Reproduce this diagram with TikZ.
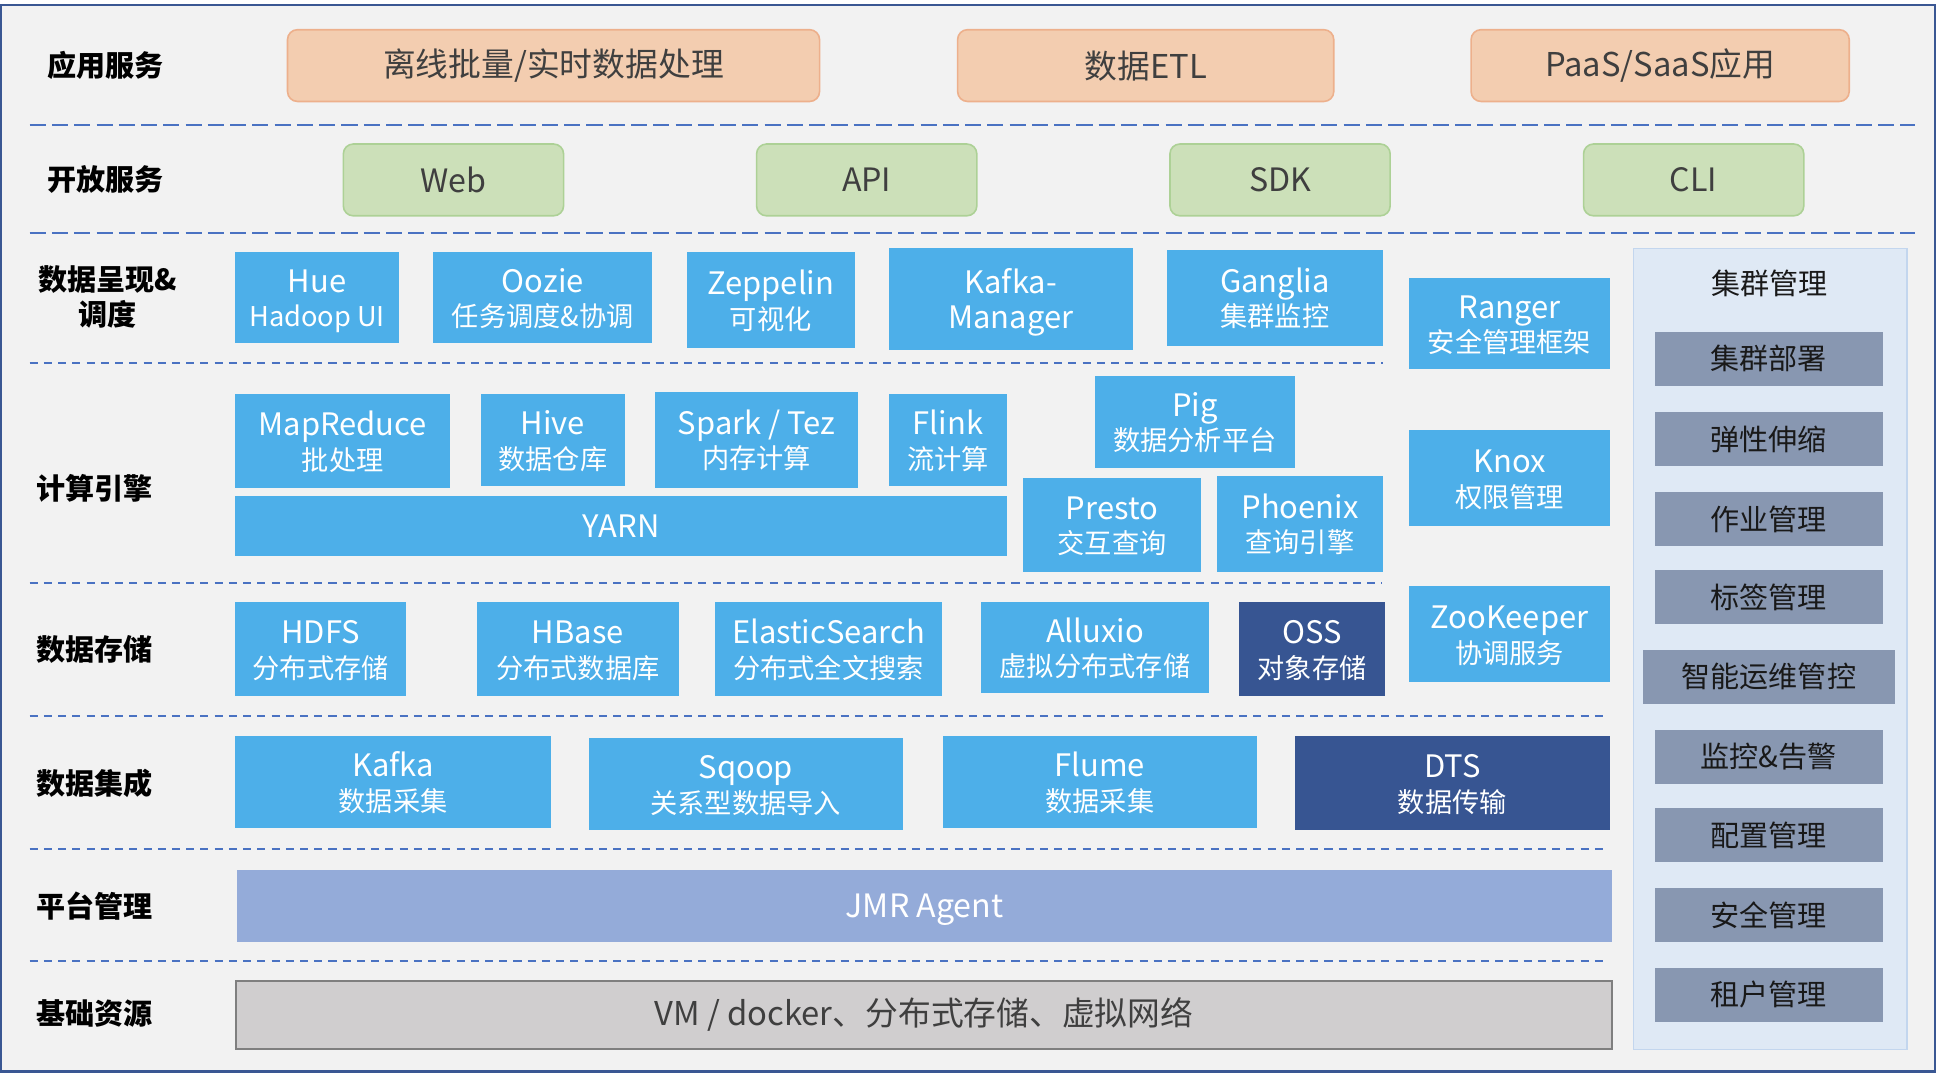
\documentclass[tikz,border=0pt]{standalone}
\usepackage{fontspec}
\setmainfont{Noto Sans CJK SC}
\usepackage{tikz}
\definecolor{bggray}{HTML}{F2F2F2}
\definecolor{framecol}{HTML}{3A5793}
\definecolor{sepblue}{HTML}{4A72C2}
\definecolor{appfill}{HTML}{F3CDB0}
\definecolor{appline}{HTML}{EDB08C}
\definecolor{openfill}{HTML}{CCE0B9}
\definecolor{openline}{HTML}{ADD196}
\definecolor{compblue}{HTML}{4DAFE9}
\definecolor{darkblue}{HTML}{375592}
\definecolor{agentblue}{HTML}{94ABD9}
\definecolor{basegray}{HTML}{D0CECF}
\definecolor{baseedge}{HTML}{7F7F7F}
\definecolor{panelfill}{HTML}{DFE9F5}
\definecolor{panelline}{HTML}{C3D6EE}
\definecolor{mgmtgray}{HTML}{8897B1}
\definecolor{darktext}{HTML}{3F3F3F}
% two-line box text: name, then a smaller caption
\newcommand{\twol}[2]{\rule{0pt}{25pt}#1\\{\fontsize{22}{28}\selectfont #2\rule[-6pt]{0pt}{6pt}}}
\tikzset{
  layer/.style={anchor=west, inner sep=0pt, font=\fontsize{23.5}{28}\selectfont\bfseries},
  appbox/.style={draw=appline, fill=appfill, line width=1.3pt, rounded corners=8pt,
    minimum height=58pt, inner sep=0pt, text=darktext, font=\fontsize{26.5}{30}\selectfont},
  openbox/.style={draw=openline, fill=openfill, line width=1.3pt, rounded corners=8pt,
    minimum width=178pt, minimum height=58pt, inner sep=0pt, text=darktext, font=\fontsize{26}{30}\selectfont},
  compbox/.style={fill=compblue, text=white, align=center, inner sep=0pt, font=\fontsize{25}{28}\selectfont},
  darkbox/.style={compbox, fill=darkblue},
  mgmtbox/.style={fill=mgmtgray, minimum width=184pt, minimum height=43.5pt, inner sep=0pt,
    text=black!90, font=\fontsize{23.5}{28}\selectfont},
  sepwide/.style={draw=sepblue, line width=1.6pt, dash pattern=on 13pt off 5pt},
  sepnarrow/.style={draw=sepblue, line width=1.6pt, dash pattern=on 6.5pt off 5pt},
}
\begin{document}
\begin{tikzpicture}[x=1pt,y=-1pt]
\useasboundingbox (0,0) rectangle (1568,868);
\draw[framecol, line width=2pt, fill=bggray] (1,4) rectangle (1564,866);
% separators
\draw[sepwide] (24,101) -- (1548,101);
\draw[sepwide] (24,188) -- (1548,188);
\draw[sepnarrow] (24,293) -- (1118,293);
\draw[sepnarrow] (24,471) -- (1117,471);
\draw[sepnarrow] (24,579) -- (1299,579);
\draw[sepnarrow] (24,686) -- (1299,686);
\draw[sepnarrow] (24,776.5) -- (1299,776.5);
% layer names
\node[layer] (lapp) at (38,53) {应用服务};
\node[layer] (lopen) at (38,145.4) {开放服务};
\node[layer, anchor=center, align=center] (lshow) at (87,240) {数据呈现\&\\调度};
\node[layer] (lcomp) at (29,394.7) {计算引擎};
\node[layer] (lstore) at (29,524.8) {数据存储};
\node[layer] (linteg) at (29,633) {数据集成};
\node[layer] (lplat) at (29,732.3) {平台管理};
\node[layer] (lbase) at (29,819) {基础资源};
% application services
\node[appbox, minimum width=430pt] (offline) at (447.4,53) {离线批量/实时数据处理};
\node[appbox, minimum width=304pt] (etl) at (926,53) {数据ETL};
\node[appbox, minimum width=305.6pt] (paas) at (1341.8,53) {PaaS/SaaS应用};
% open services
\node[openbox] (web) at (366.5,145.4) {Web};
\node[openbox] (api) at (700.5,145.4) {API};
\node[openbox] (sdk) at (1034.6,145.4) {SDK};
\node[openbox] (cli) at (1368.9,145.4) {CLI};
% presentation and scheduling
\node[compbox, minimum width=132.4pt, minimum height=73.5pt] (hue) at (256.2,240.7) {\twol{Hue}{Hadoop UI}};
\node[compbox, minimum width=177.3pt, minimum height=73.5pt] (oozie) at (438.7,240.7) {\twol{Oozie}{任务调度\&协调}};
\node[compbox, minimum width=135.5pt, minimum height=77pt] (zeppelin) at (623,242.5) {\twol{Zeppelin}{可视化}};
\node[compbox, minimum width=197.2pt, minimum height=82.2pt] (kafkamgr) at (816.9,241.8) {\rule{0pt}{25pt}Kafka-\\Manager};
\node[compbox, minimum width=174.9pt, minimum height=77.4pt] (ganglia) at (1030.5,240.7) {\twol{Ganglia}{集群监控}};
\node[compbox, minimum width=162.5pt, minimum height=73.5pt] (ranger) at (1220,261.7) {\twol{Ranger}{安全管理框架}};
% compute engines
\node[compbox, minimum width=173.9pt, minimum height=75.7pt] (mapreduce) at (277,356.4) {\twol{MapReduce}{批处理}};
\node[compbox, minimum width=116.1pt, minimum height=74.4pt] (hive) at (446.9,355.7) {\twol{Hive}{数据仓库}};
\node[compbox, minimum width=164.4pt, minimum height=77.4pt] (spark) at (611.6,355.5) {\twol{Spark / Tez}{内存计算}};
\node[compbox, minimum width=95.7pt, minimum height=74.4pt] (flink) at (766.2,355.7) {\twol{Flink}{流计算}};
\node[compbox, minimum width=624pt, minimum height=48.2pt] (yarn) at (502,425) {YARN};
\node[compbox, minimum width=161.5pt, minimum height=74pt] (pig) at (965.8,341) {\twol{Pig}{数据分析平台}};
\node[compbox, minimum width=143.5pt, minimum height=75.6pt] (presto) at (898.8,424.2) {\twol{Presto}{交互查询}};
\node[compbox, minimum width=134.5pt, minimum height=77.3pt] (phoenix) at (1050.7,423.4) {\twol{Phoenix}{查询引擎}};
\node[compbox, minimum width=162.5pt, minimum height=77.3pt] (knox) at (1220,386.3) {\twol{Knox}{权限管理}};
% storage
\node[compbox, minimum width=138.4pt, minimum height=75.5pt] (hdfs) at (259.2,524.6) {\twol{HDFS}{分布式存储}};
\node[compbox, minimum width=163.4pt, minimum height=75.5pt] (hbase) at (467.1,524.6) {\twol{HBase}{分布式数据库}};
\node[compbox, minimum width=183.5pt, minimum height=75.5pt] (es) at (669.6,524.6) {\twol{ElasticSearch}{分布式全文搜索}};
\node[compbox, minimum width=184pt, minimum height=73.6pt] (alluxio) at (885,523.6) {\twol{Alluxio}{虚拟分布式存储}};
\node[darkbox, minimum width=117.9pt, minimum height=75.5pt] (oss) at (1060.5,524.6) {\twol{OSS}{对象存储}};
\node[compbox, minimum width=162.5pt, minimum height=77.3pt] (zookeeper) at (1220,512.4) {\twol{ZooKeeper}{协调服务}};
% integration
\node[compbox, minimum width=255.4pt, minimum height=74.1pt] (kafka) at (317.7,632) {\twol{Kafka}{数据采集}};
\node[compbox, minimum width=254pt, minimum height=74.1pt] (sqoop) at (602.8,633.6) {\twol{Sqoop}{关系型数据导入}};
\node[compbox, minimum width=254.2pt, minimum height=74.1pt] (flume) at (888.9,632) {\twol{Flume}{数据采集}};
\node[darkbox, minimum width=254.8pt, minimum height=75.7pt] (dts) at (1173.9,632.8) {\twol{DTS}{数据传输}};
% platform and base
\node[compbox, fill=agentblue, minimum width=1111.5pt, minimum height=57.9pt, text depth=0pt,
  font=\fontsize{26}{30}\selectfont] (jmr) at (747.3,732.2) {JMR Agent};
\node[draw=baseedge, fill=basegray, line width=1.6pt, minimum width=1112.6pt, minimum height=55.3pt,
  inner sep=0pt, text=darktext, font=\fontsize{26.5}{30}\selectfont] (vm) at (746.7,820.3) {VM / docker、分布式存储、虚拟网络};
% cluster management panel
\node[draw=panelline, fill=panelfill, line width=1.1pt, minimum width=221pt, minimum height=647.3pt] (panel) at (1430.9,524.4) {};
\node[font=\fontsize{23.5}{28}\selectfont, text=black!90] (ptitle) at (1430,229) {集群管理};
\node[mgmtbox] (deploy) at (1429.6,289.9) {集群部署};
\node[mgmtbox] (scale) at (1429.6,354.9) {弹性伸缩};
\node[mgmtbox] (job) at (1429.6,419.4) {作业管理};
\node[mgmtbox] (tag) at (1429.6,482.6) {标签管理};
\node[mgmtbox, minimum width=203.3pt] (ops) at (1429.7,547.1) {智能运维管控};
\node[mgmtbox] (alarm) at (1429.6,611.7) {监控\&告警};
\node[mgmtbox] (conf) at (1429.6,674.8) {配置管理};
\node[mgmtbox] (sec) at (1429.6,739.4) {安全管理};
\node[mgmtbox] (tenant) at (1429.6,804.1) {租户管理};
\end{tikzpicture}
\end{document}
